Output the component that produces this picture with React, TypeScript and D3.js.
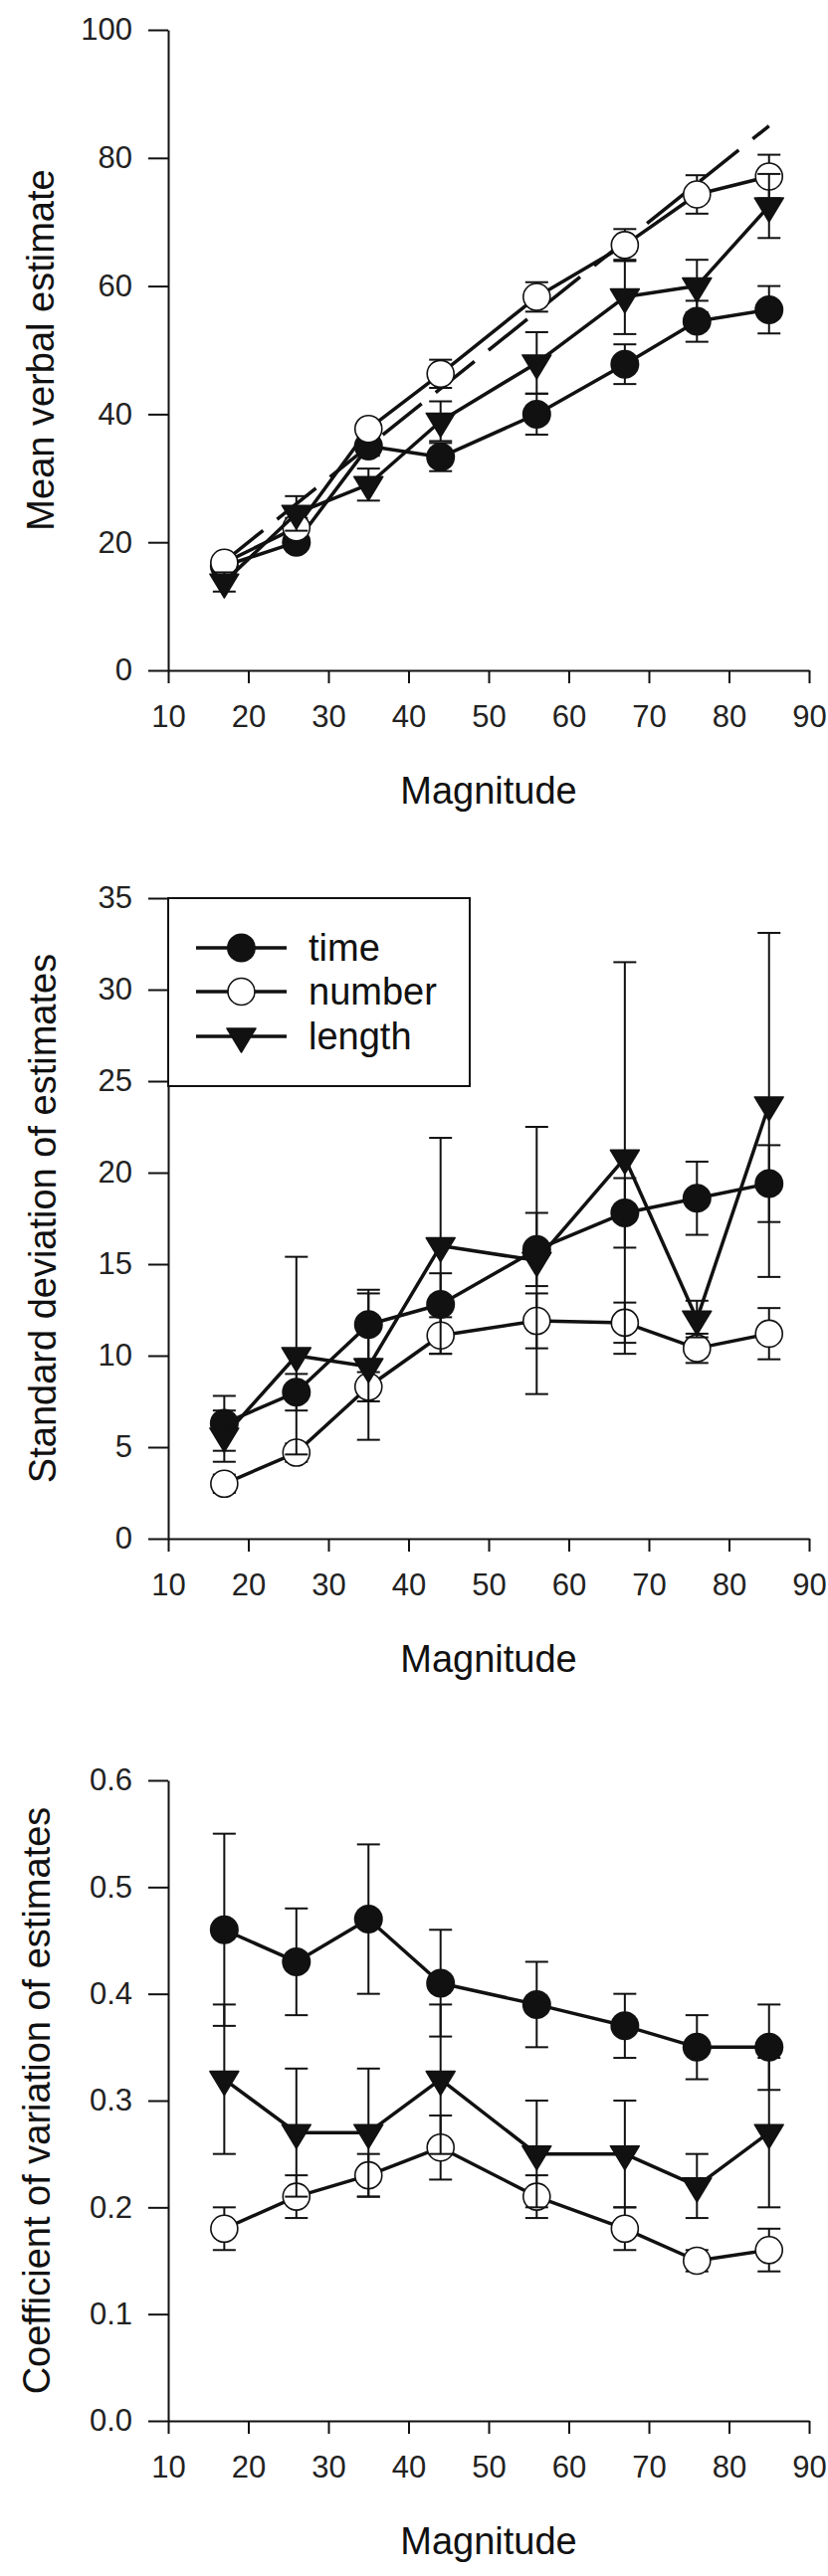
import React, { useRef, useEffect } from "react";
import * as d3 from "d3";

// magnitudes shown on every panel
const magnitudes = [17, 26, 35, 44, 56, 67, 76, 85];
const xTicks = [10, 20, 30, 40, 50, 60, 70, 80, 90];

// panel 1: mean verbal estimate (+- SEM)
const meanTime = [16.3, 20, 35, 33.3, 40, 47.8, 54.5, 56.3];
const meanTimeErr = [1, 1, 1.5, 2.2, 3.2, 3.1, 3.2, 3.7];
const meanNumber = [16.8, 22.3, 37.7, 46.3, 58.3, 66.4, 74.3, 77.1];
const meanNumberErr = [1, 1.5, 1, 2.2, 2.3, 2.5, 3, 3.4];
const meanLength = [13.8, 24.5, 29, 38.9, 48, 58.3, 60, 72.5];
const meanLengthErr = [1.5, 2.7, 2.5, 3.1, 4.8, 5.8, 4.1, 5];
const unityLine = [17, 85];
const meanTicks = [0, 20, 40, 60, 80, 100];

// panel 2: standard deviation of estimates
const sdTime = [6.3, 8, 11.7, 12.8, 15.8, 17.8, 18.6, 19.4];
const sdTimeErr = [1.5, 1, 1.9, 1.7, 2, 1.9, 2, 2.1];
const sdNumber = [3, 4.7, 8.3, 11.1, 11.9, 11.8, 10.4, 11.2];
const sdNumberErr = [0.5, 0.5, 0.8, 1, 1.5, 1.1, 0.8, 1.4];
const sdLength = [5.6, 10, 9.4, 16, 15.2, 20.8, 12, 23.7];
const sdLengthErr = [1.4, 5.4, 4, 5.9, 7.3, 10.7, 1, 9.4];
const sdTicks = [0, 5, 10, 15, 20, 25, 30, 35];

// panel 3: coefficient of variation of estimates
const cvTime = [0.46, 0.43, 0.47, 0.41, 0.39, 0.37, 0.35, 0.35];
const cvTimeErr = [0.09, 0.05, 0.07, 0.05, 0.04, 0.03, 0.03, 0.04];
const cvNumber = [0.18, 0.21, 0.23, 0.256, 0.21, 0.18, 0.15, 0.16];
const cvNumberErr = [0.02, 0.02, 0.02, 0.03, 0.02, 0.02, 0.01, 0.02];
const cvLength = [0.32, 0.27, 0.27, 0.32, 0.25, 0.25, 0.22, 0.27];
const cvLengthErr = [0.07, 0.06, 0.06, 0.07, 0.05, 0.05, 0.03, 0.07];
const cvTicks = [0, 0.1, 0.2, 0.3, 0.4, 0.5, 0.6];

const legendLabels = ["time", "number", "length"];

type Kind = "filled" | "open" | "triangle";
type Series = { kind: Kind; values: number[]; errors: number[] };
type Panel = {
  title: string;
  domain: [number, number];
  top: number;
  bottom: number;
  ticks: number[];
  format: (v: number) => string;
  titleX: number;
  series: Series[];
  unity?: boolean;
  legend?: boolean;
};

const FONT = "'Liberation Sans', Arial, Helvetica, sans-serif";
const INK = "#111";

const panels: Panel[] = [
  {
    title: "Mean verbal estimate",
    domain: [0, 100],
    top: 30,
    bottom: 674,
    ticks: meanTicks,
    format: d3.format("d"),
    titleX: 54,
    unity: true,
    series: [
      { kind: "filled", values: meanTime, errors: meanTimeErr },
      { kind: "open", values: meanNumber, errors: meanNumberErr },
      { kind: "triangle", values: meanLength, errors: meanLengthErr },
    ],
  },
  {
    title: "Standard deviation of estimates",
    domain: [0, 35],
    top: 903,
    bottom: 1547,
    ticks: sdTicks,
    format: d3.format("d"),
    titleX: 56,
    legend: true,
    series: [
      { kind: "filled", values: sdTime, errors: sdTimeErr },
      { kind: "open", values: sdNumber, errors: sdNumberErr },
      { kind: "triangle", values: sdLength, errors: sdLengthErr },
    ],
  },
  {
    title: "Coefficient of variation of estimates",
    domain: [0, 0.6],
    top: 1790,
    bottom: 2434,
    ticks: cvTicks,
    format: d3.format(".1f"),
    titleX: 50,
    series: [
      { kind: "filled", values: cvTime, errors: cvTimeErr },
      { kind: "open", values: cvNumber, errors: cvNumberErr },
      { kind: "triangle", values: cvLength, errors: cvLengthErr },
    ],
  },
];

// draws one marker centred on (cx, cy)
function addMarker(
  g: d3.Selection<SVGGElement, unknown, null, undefined>,
  kind: Kind,
  cx: number,
  cy: number
) {
  if (kind === "triangle") {
    g.append("path")
      .attr("d", `M${cx - 14.5},${cy - 8}L${cx + 14.5},${cy - 8}L${cx},${cy + 16}Z`)
      .attr("fill", INK)
      .attr("stroke", INK)
      .attr("stroke-width", 1.5)
      .attr("stroke-linejoin", "round");
  } else if (kind === "filled") {
    g.append("circle")
      .attr("cx", cx)
      .attr("cy", cy)
      .attr("r", 14.5)
      .attr("fill", INK);
  } else {
    g.append("circle")
      .attr("cx", cx)
      .attr("cy", cy)
      .attr("r", 13.5)
      .attr("fill", "#fff")
      .attr("stroke", INK)
      .attr("stroke-width", 1.6);
  }
}

const App: React.FC = () => {
  const ref = useRef<SVGSVGElement | null>(null);

  useEffect(() => {
    if (!ref.current) return;
    const svg = d3.select(ref.current);
    svg.selectAll("*").remove();

    const x = d3.scaleLinear().domain([10, 90]).range([169, 813]);

    panels.forEach((p) => {
      const y = d3.scaleLinear().domain(p.domain).range([p.bottom, p.top]);
      const g = svg.append("g");

      // x axis
      const gx = g
        .append("g")
        .attr("transform", `translate(0,${p.bottom})`)
        .call(
          d3
            .axisBottom(x)
            .tickValues(xTicks)
            .tickSize(13)
            .tickSizeOuter(0)
            .tickPadding(22)
            .tickFormat(d3.format("d"))
        );

      // y axis
      const gy = g
        .append("g")
        .attr("transform", `translate(169,0)`)
        .call(
          d3
            .axisLeft(y)
            .tickValues(p.ticks)
            .tickSize(20)
            .tickSizeOuter(0)
            .tickPadding(16)
            .tickFormat(p.format as any)
        );

      [gx, gy].forEach((ax) => {
        ax.selectAll("path, line").attr("stroke", INK).attr("stroke-width", 2);
        ax.selectAll("text")
          .attr("fill", "#222")
          .style("font-family", FONT)
          .style("font-size", "31px");
      });

      // axis titles
      g.append("text")
        .attr("x", (x(10) + x(90)) / 2)
        .attr("y", p.bottom + 134)
        .attr("text-anchor", "middle")
        .attr("fill", "#111")
        .style("font-family", FONT)
        .style("font-size", "38px")
        .text("Magnitude");

      g.append("text")
        .attr("transform", `translate(${p.titleX},${(p.top + p.bottom) / 2}) rotate(-90)`)
        .attr("text-anchor", "middle")
        .attr("fill", "#111")
        .style("font-family", FONT)
        .style("font-size", "38px")
        .text(p.title);

      // identity line
      if (p.unity) {
        g.append("line")
          .attr("x1", x(unityLine[0]))
          .attr("y1", y(unityLine[0]))
          .attr("x2", x(unityLine[1]))
          .attr("y2", y(unityLine[1]))
          .attr("stroke", INK)
          .attr("stroke-width", 3.5)
          .attr("stroke-dasharray", "50,18");
      }

      const line = d3
        .line<number>()
        .x((_, i) => x(magnitudes[i]))
        .y((d) => y(d));

      // each series: error bars, connecting line, markers
      p.series.forEach((s) => {
        const sg = g.append("g");

        s.values.forEach((v, i) => {
          const cx = x(magnitudes[i]);
          const y1 = y(v + s.errors[i]);
          const y2 = y(v - s.errors[i]);
          sg.append("line")
            .attr("x1", cx).attr("x2", cx)
            .attr("y1", y1).attr("y2", y2)
            .attr("stroke", INK).attr("stroke-width", 2);
          [y1, y2].forEach((cy) =>
            sg.append("line")
              .attr("x1", cx - 11.5).attr("x2", cx + 11.5)
              .attr("y1", cy).attr("y2", cy)
              .attr("stroke", INK).attr("stroke-width", 2)
          );
        });

        sg.append("path")
          .datum(s.values)
          .attr("d", line)
          .attr("fill", "none")
          .attr("stroke", INK)
          .attr("stroke-width", 3.5)
          .attr("stroke-linejoin", "round");

        s.values.forEach((v, i) => addMarker(sg, s.kind, x(magnitudes[i]), y(v)));
      });

      // legend box
      if (p.legend) {
        const lg = g.append("g");
        lg.append("rect")
          .attr("x", 169)
          .attr("y", p.top)
          .attr("width", 303)
          .attr("height", 189)
          .attr("fill", "#fff")
          .attr("stroke", INK)
          .attr("stroke-width", 2);
        const rows = [p.top + 50, p.top + 94, p.top + 139];
        p.series.forEach((s, i) => {
          lg.append("line")
            .attr("x1", 197).attr("x2", 288)
            .attr("y1", rows[i]).attr("y2", rows[i])
            .attr("stroke", INK).attr("stroke-width", 3.5);
          addMarker(lg, s.kind, 242.5, rows[i]);
          lg.append("text")
            .attr("x", 310)
            .attr("y", rows[i])
            .attr("dy", "0.35em")
            .attr("fill", "#111")
            .style("font-family", FONT)
            .style("font-size", "38px")
            .text(legendLabels[i]);
        });
      }
    });
  }, []);

  return (
    <svg
      ref={ref}
      width={832}
      height={2590}
      style={{ position: "absolute", left: 0, top: 0, background: "#fff" }}
    />
  );
};

export default App;
